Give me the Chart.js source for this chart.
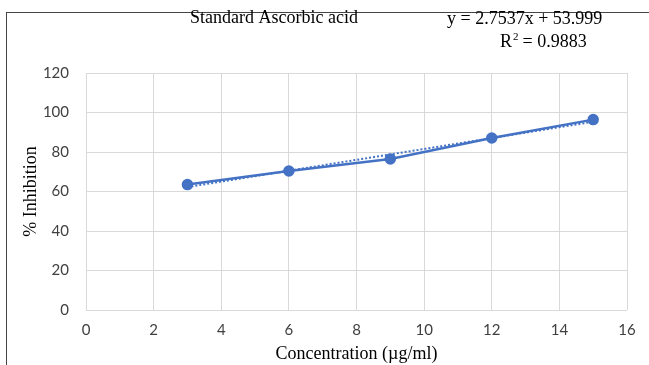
<!DOCTYPE html>
<html>
<head>
<meta charset="utf-8">
<script src="https://cdn.jsdelivr.net/npm/chart.js@4/dist/chart.umd.min.js"></script>
<style>
	html, body { margin: 0; padding: 0; background: #fff; }
	#wrap { position: relative; width: 649px; height: 365px; }
	#frame { position: absolute; left: 6px; top: 12px; right: 0; bottom: 0; border-left: 1px solid #444; border-top: 1px solid #444; }
	canvas { position: absolute; left: 0; top: 0; }
</style>
</head>
<body>
<div id="wrap">
	<div id="frame"></div>
	<canvas id="graph" width="649" height="365"></canvas>
</div>
<script>
// data
var concentration = [3, 6, 9, 12, 15]
var inhibition = [63.5, 70.4, 76.5, 87.1, 96.4]
// linear trendline end points (y = 2.7537x + 53.999)
var trendX = [3, 15]
var trendY = [62.26, 95.31]
var xTicks = [0, 2, 4, 6, 8, 10, 12, 14, 16]
var yTicks = [0, 20, 40, 60, 80, 100, 120]

var blue = '#4472C4'
var serif = '"Liberation Serif", "Times New Roman", serif'

function pts(xs, ys) {
	var out = []
	for (i = 0; i < xs.length; i++) {
		out.push({x: xs[i], y: ys[i]})
	}
	return out
}

// header texts (title, equation, R2)
var headerPlugin = {
	id: 'header',
	afterDraw: function(chart) {
		var ctx = chart.ctx
		ctx.save()
		ctx.fillStyle = '#000'
		ctx.textBaseline = 'middle'
		ctx.font = '18px ' + serif
		ctx.textAlign = 'left'
		ctx.fillText('Standard Ascorbic acid', 190, 18)
		ctx.fillText('y = 2.7537x + 53.999', 447, 19)
		ctx.fillText('R', 500, 42)
		var w = ctx.measureText('R').width
		ctx.font = '11px ' + serif
		ctx.fillText('2', 500 + w + 1, 37)
		ctx.font = '18px ' + serif
		ctx.fillText(' = 0.9883', 500 + w + 6, 42)
		ctx.restore()
	}
}

window.jhwGraphConfig = {
	type: 'scatter',
	data: {
		datasets: [{
			data: pts(concentration, inhibition),
			showLine: true,
			borderColor: blue,
			backgroundColor: blue,
			borderWidth: 2.5,
			pointRadius: 4.5,
			pointHoverRadius: 4.5,
			order: 1
		}, {
			data: pts(trendX, trendY),
			showLine: true,
			borderColor: blue,
			borderWidth: 2,
			borderDash: [2, 2],
			pointRadius: 0,
			order: 2
		}]
	},
	options: {
		responsive: false,
		animation: false,
		events: [],
		layout: { padding: { left: 14, top: 73, right: 22, bottom: 0 } },
		plugins: {
			legend: { display: false },
			tooltip: { enabled: false }
		},
		scales: {
			x: {
				type: 'linear',
				min: 0, max: 16,
				afterBuildTicks: function(axis) {
					axis.ticks = xTicks.map(function(v) { return {value: v} })
				},
				afterFit: function(axis) { axis.height = 55 },
				grid: { color: '#d9d9d9', lineWidth: 1, drawTicks: false },
				border: { display: false },
				ticks: { padding: 11, color: '#404040', font: { family: 'Lato', size: 15 }, maxRotation: 0 },
				title: {
					display: true,
					text: 'Concentration (µg/ml)',
					color: '#000',
					font: { family: serif, size: 18 },
					padding: { top: 0, bottom: 0 }
				}
			},
			y: {
				type: 'linear',
				min: 0, max: 120,
				afterBuildTicks: function(axis) {
					axis.ticks = yTicks.map(function(v) { return {value: v} })
				},
				afterFit: function(axis) { axis.width = 72 },
				grid: { color: '#d9d9d9', lineWidth: 1, drawTicks: false },
				border: { display: false },
				ticks: { padding: 17, color: '#404040', font: { family: 'Lato', size: 15 } },
				title: {
					display: true,
					text: '% Inhibition',
					color: '#000',
					font: { family: serif, size: 18 },
					padding: { top: 6, bottom: 0 }
				}
			}
		}
	},
	plugins: [headerPlugin]
}

window.jhwGraph = new Chart(document.getElementById('graph'), window.jhwGraphConfig)
</script>
</body>
</html>
